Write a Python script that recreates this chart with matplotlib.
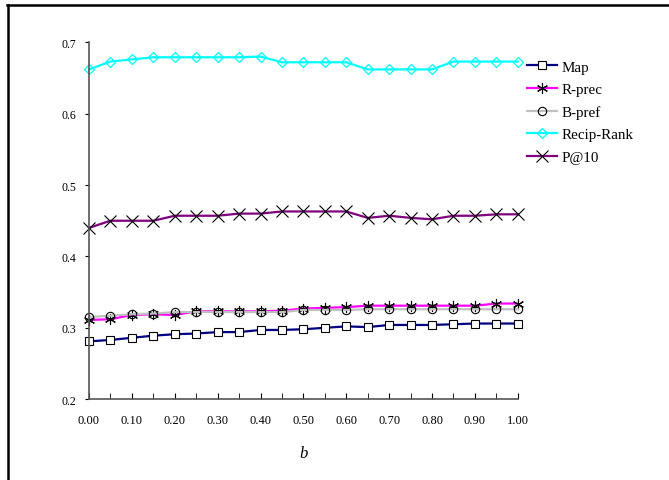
import numpy as np
import matplotlib.pyplot as plt
from matplotlib.lines import Line2D

# Valores
lambdas = [0.00, 0.05, 0.10, 0.15, 0.20, 0.25, 0.30, 0.35, 0.40, 0.45, 0.50,
           0.55, 0.60, 0.65, 0.70, 0.75, 0.80, 0.85, 0.90, 0.95, 1.00]
map_vals = [0.281, 0.283, 0.286, 0.289, 0.291, 0.292, 0.294, 0.294, 0.297, 0.297, 0.298,
            0.300, 0.302, 0.301, 0.304, 0.304, 0.304, 0.305, 0.306, 0.306, 0.306]
rprec_vals = [0.311, 0.312, 0.318, 0.319, 0.318, 0.323, 0.323, 0.323, 0.323, 0.324, 0.327,
              0.328, 0.329, 0.331, 0.331, 0.331, 0.331, 0.331, 0.331, 0.334, 0.334]
bpref_vals = [0.315, 0.317, 0.319, 0.320, 0.322, 0.322, 0.322, 0.322, 0.322, 0.322, 0.325,
              0.325, 0.325, 0.326, 0.326, 0.326, 0.326, 0.326, 0.326, 0.326, 0.326]
recip_vals = [0.662, 0.673, 0.676, 0.679, 0.679, 0.679, 0.679, 0.679, 0.680, 0.672, 0.672,
              0.672, 0.672, 0.662, 0.662, 0.662, 0.662, 0.673, 0.673, 0.673, 0.673]
p10_vals = [0.440, 0.450, 0.450, 0.450, 0.457, 0.457, 0.457, 0.460, 0.460, 0.463, 0.463,
            0.463, 0.463, 0.454, 0.457, 0.454, 0.452, 0.457, 0.457, 0.459, 0.459]

plt.rcParams['font.family'] = ['Liberation Serif', 'DejaVu Serif']

fig = plt.figure(figsize=(6.69, 4.81), dpi=100)
ax = fig.add_axes([0.133, 0.168, 0.641, 0.742])

ax.plot(lambdas, map_vals, color='#000080', lw=1.6, marker='s', ms=6,
        mfc='white', mec='black', mew=0.8, label='Map', clip_on=False)
ax.plot(lambdas, rprec_vals, color='#FF00FF', lw=1.6, marker=(6, 2, 0), ms=8,
        mec='black', mew=0.8, label='R-prec', clip_on=False)
ax.plot(lambdas, bpref_vals, color='#C0C0C0', lw=1.6, marker='o', ms=6,
        mfc='none', mec='black', mew=0.8, label='B-pref', clip_on=False)
ax.plot(lambdas, recip_vals, color='#00FFFF', lw=1.6, marker='D', ms=5.5,
        mfc='none', mec='#00FFFF', mew=0.9, label='Recip-Rank', clip_on=False)
ax.plot(lambdas, p10_vals, color='#800080', lw=1.6, marker='x', ms=8,
        mec='black', mew=0.8, label='P@10', clip_on=False)

ax.set_xlim(0, 1)
ax.set_ylim(0.2, 0.7)
ax.spines['top'].set_visible(False)
ax.spines['right'].set_visible(False)
for s in ['left', 'bottom']:
    ax.spines[s].set_color('#555555')
    ax.spines[s].set_linewidth(1.2)

ax.set_xticks(np.arange(0, 1.0001, 0.05), minor=True)
ax.set_xticks(np.arange(0, 1.0001, 0.1))
ax.set_xticklabels([f'{v:.2f}' for v in np.arange(0, 1.0001, 0.1)])
ax.set_yticks(np.arange(0.2, 0.7001, 0.1))
ax.set_yticklabels([f'{v:.1f}' for v in np.arange(0.2, 0.7001, 0.1)])
ax.tick_params(axis='x', which='both', direction='in', length=4, labelsize=9, pad=11)
ax.tick_params(axis='y', direction='out', length=3, labelsize=8.5, pad=6)

ax.legend(loc='upper left', bbox_to_anchor=(1.0, 0.975), frameon=False, fontsize=10.8,
          handlelength=2.0, labelspacing=0.6, handletextpad=0.3, borderaxespad=0.2)

ax.set_xlabel('b', fontstyle='italic', fontsize=12, labelpad=13)

# marco de la figura
fig.add_artist(Line2D([7/669, 1.0], [1 - 6/481, 1 - 6/481], color='black', lw=1.8,
                      transform=fig.transFigure))
fig.add_artist(Line2D([7.5/669, 7.5/669], [0, 1 - 6/481], color='black', lw=1.8,
                      transform=fig.transFigure))

fig.savefig('out.png', dpi=100)
